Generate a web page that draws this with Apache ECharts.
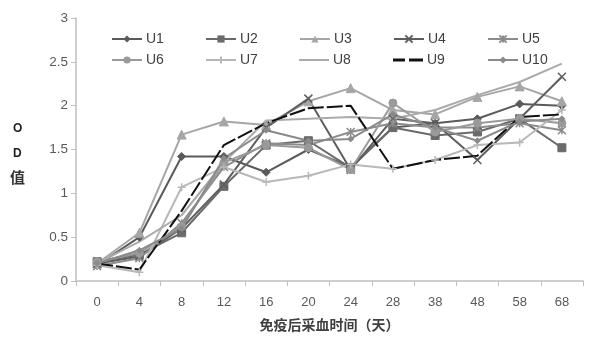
<!DOCTYPE html>
<html><head><meta charset="utf-8">
<script src="https://cdn.jsdelivr.net/npm/echarts@6/dist/echarts.min.js"></script>
<style>html,body{margin:0;padding:0;background:#fff}#c{width:597px;height:337px}</style>
</head><body><div id="c"></div>
<script>
const categories = ['0','4','8','12','16','20','24','28','38','48','58','68'];
const U1  = [0.18,0.50,1.42,1.42,1.24,1.50,1.30,1.75,1.80,1.85,2.02,2.00];
const U2  = [0.22,0.30,0.55,1.08,1.55,1.60,1.29,1.75,1.66,1.70,1.85,1.52];
const U3  = [0.20,0.55,1.67,1.82,1.78,2.05,2.20,1.95,1.90,2.10,2.22,2.05];
const U4  = [0.20,0.28,0.60,1.10,1.75,2.08,1.27,1.85,1.80,1.38,1.85,2.33];
const U5  = [0.17,0.26,0.66,1.30,1.57,1.55,1.70,1.80,1.75,1.75,1.80,1.72];
const U6  = [0.22,0.32,0.62,1.35,1.55,1.52,1.27,2.03,1.70,1.80,1.85,1.80];
const U7  = [0.18,0.10,1.07,1.30,1.13,1.20,1.33,1.28,1.38,1.55,1.58,1.95];
const U8  = [0.20,0.45,0.75,1.35,1.83,1.85,1.87,1.85,1.95,2.12,2.27,2.48];
const U9  = [0.20,0.13,0.80,1.55,1.80,1.97,2.00,1.28,1.38,1.43,1.87,1.90];
const U10 = [0.20,0.35,0.60,1.40,1.72,1.60,1.62,1.90,1.75,1.60,1.82,1.85];
const names = ['U1','U2','U3','U4','U5','U6','U7','U8','U9','U10'];
const values = [U1,U2,U3,U4,U5,U6,U7,U8,U9,U10];
const yTicks = [0,0.5,1,1.5,2,2.5,3];

const styles = [
  {c:'#5a5a5a', s:'diamond', w:2},
  {c:'#6a6a6a', s:'rect', w:2},
  {c:'#a6a6a6', s:'triangle', w:2},
  {c:'#5e5e5e', s:'path://M0,0 L10,10 M10,0 L0,10', w:2},
  {c:'#8c8c8c', s:'path://M0,0 L10,10 M10,0 L0,10 M5,0 L5,10', w:2},
  {c:'#9a9a9a', s:'circle', w:2},
  {c:'#b8b8b8', s:'path://M5,0 L5,10 M0,5 L10,5', w:2},
  {c:'#ababab', s:'none', w:2},
  {c:'#111111', s:'none', w:2, dash:[16,3]},
  {c:'#8a8a8a', s:'diamond', w:2}
];

const series = names.map((n,i)=>{
  const st = styles[i];
  const isPath = st.s.startsWith('path');
  return {
    name:n, type:'line', data:values[i],
    symbol: st.s==='none' ? 'none' : st.s,
    symbolSize: st.s==='rect'?8: st.s==='circle'?8: st.s==='triangle'?9 : i===9?6 : 8,
    showSymbol: st.s!=='none',
    lineStyle:{color:st.c, width:st.w, type: st.dash?st.dash:'solid'},
    itemStyle: isPath ? {color:'none', borderColor:st.c, borderWidth:1.5} : {color:st.c, borderColor:st.c},
    emphasis:{disabled:true}, animation:false
  };
});

const legends = names.map((n,i)=>{
  const col = i%5, row = Math.floor(i/5);
  const item = {name:n};
  let ih = 9;
  if (n==='U8') { item.icon = 'path://M0,0h30v2h-30z'; item.itemStyle={color:'#ababab'}; ih=2; }
  if (n==='U9') { item.icon = 'path://M0,0h12v3h-12z M16,0h14v3h-14z'; item.itemStyle={color:'#111'}; ih=3; }
  return {
    data:[item], left: 106 + col*94, top: 26 + row*21,
    itemWidth:30, itemHeight:ih, itemGap:0,
    textStyle:{fontFamily:'Liberation Sans, Arial', fontSize:14, color:'#404040', padding:[0,0,0,-1],
      lineHeight:16},
    selectedMode:false
  };
});

const chart = echarts.init(document.getElementById('c'), null, {renderer:'canvas'});
chart.setOption({
  animation:false,
  backgroundColor:'#fff',
  legend: legends,
  grid:{left:76, right:14, top:18, bottom:56, containLabel:false},
  xAxis:{type:'category', data:categories, boundaryGap:true,
    axisLine:{lineStyle:{color:'#bfbfbf', width:1.5}},
    axisTick:{show:true, length:5, lineStyle:{color:'#bfbfbf'}},
    axisLabel:{color:'#595959', fontSize:13, fontFamily:'Liberation Sans, Arial', margin:15},
    name:'免疫后采血时间（天）', nameLocation:'middle', nameGap:37,
    nameTextStyle:{color:'#404040', fontSize:14, fontWeight:'bold', fontFamily:'Noto Sans CJK SC'}
  },
  yAxis:{type:'value', min:0, max:3, interval:0.5,
    axisLine:{show:true, lineStyle:{color:'#bfbfbf', width:1.5}},
    axisTick:{show:true, inside:false, length:5, lineStyle:{color:'#bfbfbf'}},
    splitLine:{show:false},
    axisLabel:{color:'#595959', fontSize:13.5, fontFamily:'Liberation Sans, Arial', margin:8,
      formatter:v=> yTicks.includes(v) ? String(v) : ''}
  },
  graphic:[
    {type:'text', left:13, top:123, style:{text:'O', font:'bold 12px Liberation Sans, Arial', fill:'#222'}},
    {type:'text', left:13, top:148, style:{text:'D', font:'bold 12px Liberation Sans, Arial', fill:'#222'}},
    {type:'text', left:10, top:170, style:{text:'值', font:'bold 15px Noto Sans CJK SC', fill:'#333'}}
  ],
  series: series
});
</script></body></html>
